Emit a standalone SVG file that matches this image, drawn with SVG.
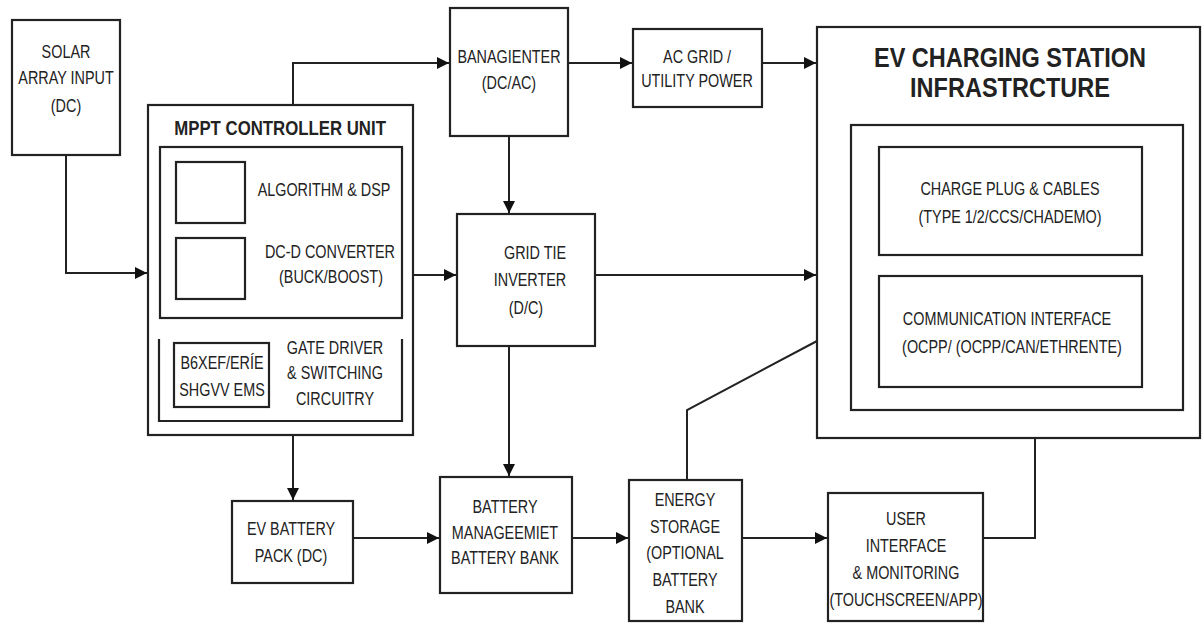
<svg xmlns="http://www.w3.org/2000/svg" width="1203" height="623" viewBox="0 0 1203 623">
<style>
.box{fill:none;stroke:#222;stroke-width:2.2}
.wire{fill:none;stroke:#222;stroke-width:2}
text{font-family:"Liberation Sans",Arial,sans-serif;font-size:18px;fill:#222;text-anchor:middle;transform-box:fill-box;transform-origin:center;transform:scaleX(0.8)}
.t1{font-size:20px;font-weight:bold;transform:scaleX(0.84)}
.t2{font-size:28px;font-weight:bold;transform:scaleX(0.84)}
</style>
<defs>
<marker id="ah" markerUnits="userSpaceOnUse" markerWidth="14" markerHeight="14" refX="12" refY="6" orient="auto">
<path d="M0,0 L12,6 L0,12 z" fill="#111"/>
</marker>
</defs>
<rect width="1203" height="623" fill="#fff"/>
<g id="connectors">
<path class="wire" d="M66,155 V273 H147" marker-end="url(#ah)"/>
<path class="wire" d="M293,105 V63 H449" marker-end="url(#ah)"/>
<path class="wire" d="M568,63 H632" marker-end="url(#ah)"/>
<path class="wire" d="M762,63 H816" marker-end="url(#ah)"/>
<path class="wire" d="M509,136 V213" marker-end="url(#ah)"/>
<path class="wire" d="M413,275 H456" marker-end="url(#ah)"/>
<path class="wire" d="M595,275 H816" marker-end="url(#ah)"/>
<path class="wire" d="M509,346 V476" marker-end="url(#ah)"/>
<path class="wire" d="M293,435 V500" marker-end="url(#ah)"/>
<path class="wire" d="M353,538 H439" marker-end="url(#ah)"/>
<path class="wire" d="M572,538 H628" marker-end="url(#ah)"/>
<path class="wire" d="M742,538 H827" marker-end="url(#ah)"/>
<path class="wire" d="M983,538 H1035 V438"/>
<path class="wire" d="M687,480 V410 L817,341"/>
</g>
<g id="solar">
<rect class="box" x="12" y="20" width="108" height="135"/>
<text x="66" y="58">SOLAR</text>
<text x="66" y="84">ARRAY INPUT</text>
<text x="66" y="112">(DC)</text>
</g>
<g id="mppt">
<rect class="box" x="148" y="105" width="265" height="330"/>
<text class="t1" x="280" y="135">MPPT CONTROLLER UNIT</text>
<rect class="box" x="160" y="147" width="242" height="171"/>
<rect class="box" x="176" y="162" width="69" height="61"/>
<rect class="box" x="176" y="238" width="69" height="61"/>
<text x="324" y="196">ALGORITHM &amp; DSP</text>
<text x="330" y="258">DC-D CONVERTER</text>
<text x="331" y="283">(BUCK/BOOST)</text>
<path class="box" d="M159,339 V421 H402 V339"/>
<rect class="box" x="174" y="343" width="95" height="64"/>
<text x="222" y="369">B6XEF/ERÍE</text>
<text x="222" y="396">SHGVV EMS</text>
<text x="335" y="354">GATE DRIVER</text>
<text x="335" y="379">&amp; SWITCHING</text>
<text x="335" y="405">CIRCUITRY</text>
</g>
<g id="banagienter">
<rect class="box" x="450" y="8" width="118" height="128"/>
<text x="509" y="63">BANAGIENTER</text>
<text x="509" y="89">(DC/AC)</text>
</g>
<g id="acgrid">
<rect class="box" x="633" y="29" width="129" height="78"/>
<text x="697" y="63">AC GRID /</text>
<text x="697" y="87">UTILITY POWER</text>
</g>
<g id="evstation">
<rect class="box" x="817" y="27" width="383" height="411"/>
<text class="t2" x="1010" y="67">EV CHARGING STATION</text>
<text class="t2" x="1010" y="97">INFRASTRCTURE</text>
<rect class="box" x="851" y="125" width="332" height="285"/>
</g>
<g id="chargeplug">
<rect class="box" x="879" y="147" width="263" height="108"/>
<text x="1010" y="195">CHARGE PLUG &amp; CABLES</text>
<text x="1010" y="223">(TYPE 1/2/CCS/CHADEMO)</text>
</g>
<g id="comm">
<rect class="box" x="879" y="276" width="263" height="111"/>
<text x="1007" y="325">COMMUNICATION INTERFACE</text>
<text x="1012" y="353">(OCPP/ (OCPP/CAN/ETHRENTE)</text>
</g>
<g id="gridtie">
<rect class="box" x="457" y="214" width="138" height="132"/>
<text x="535" y="259">GRID TIE</text>
<text x="530" y="286">INVERTER</text>
<text x="526" y="314">(D/C)</text>
</g>
<g id="evbattery">
<rect class="box" x="232" y="501" width="121" height="82"/>
<text x="291" y="535">EV BATTERY</text>
<text x="291" y="562">PACK (DC)</text>
</g>
<g id="bms">
<rect class="box" x="440" y="477" width="132" height="116"/>
<text x="505" y="513">BATTERY</text>
<text x="505" y="539">MANAGEEMIET</text>
<text x="505" y="564">BATTERY BANK</text>
</g>
<g id="storage">
<rect class="box" x="629" y="480" width="113" height="141"/>
<text x="685" y="506">ENERGY</text>
<text x="685" y="533">STORAGE</text>
<text x="685" y="559">(OPTIONAL</text>
<text x="685" y="586">BATTERY</text>
<text x="685" y="613">BANK</text>
</g>
<g id="ui">
<rect class="box" x="828" y="493" width="155" height="128"/>
<text x="906" y="525">USER</text>
<text x="906" y="552">INTERFACE</text>
<text x="906" y="579">&amp; MONITORING</text>
<text x="906" y="606">(TOUCHSCREEN/APP)</text>
</g>
</svg>
